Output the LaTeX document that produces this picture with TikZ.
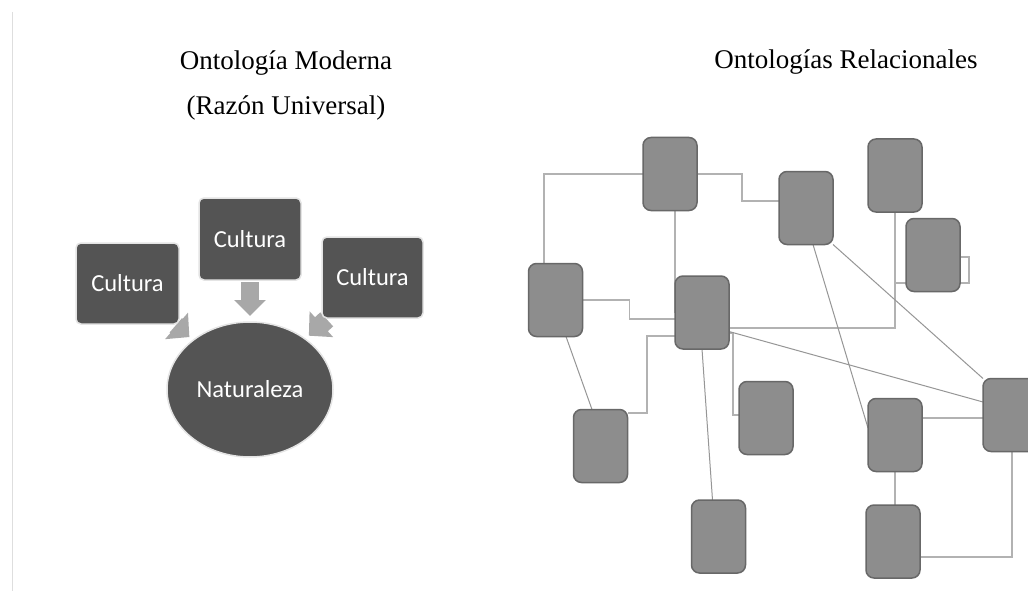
\documentclass[tikz,border=0pt]{standalone}
\usepackage{fontspec}
\setmainfont{Liberation Serif}
\newfontfamily\calfont{Carlito}
\usetikzlibrary{arrows.meta,shapes.geometric}
\pgfdeclarelayer{background}
\pgfsetlayers{background,main}
\definecolor{darkbox}{RGB}{84,84,84}
\definecolor{halo}{RGB}{228,228,228}
\definecolor{arrowgray}{RGB}{168,168,168}
\definecolor{boxfill}{RGB}{141,141,141}
\definecolor{boxline}{RGB}{104,104,104}
\definecolor{elbowgray}{RGB}{178,178,178}
\definecolor{diaggray}{RGB}{150,150,150}
\definecolor{rulegray}{RGB}{222,222,222}
\tikzset{
  title/.style={anchor=base, inner sep=0pt, font=\fontsize{27}{32}\selectfont},
  culturabox/.style={rectangle, rounded corners=5pt, fill=darkbox, draw=halo, line width=1.5pt,
    text=white, font=\calfont\fontsize{24.5}{28}\selectfont, inner sep=0pt, outer sep=0pt},
  natellipse/.style={ellipse, fill=darkbox, draw=halo, line width=1.5pt, text=white,
    font=\calfont\fontsize{24.5}{28}\selectfont, inner sep=0pt, outer sep=0pt,
    minimum width=166pt, minimum height=135pt},
  bigarrow/.style={draw=arrowgray, line width=18pt, -{Triangle[width=31pt,length=16pt]},
    shorten <=2pt, shorten >=6pt},
  sidearrow/.style={draw=arrowgray, line width=19pt, -{Triangle[width=34pt,length=17pt]},
    shorten <=2pt, shorten >=5pt},
  rbox/.style={rectangle, rounded corners=8pt, fill=boxfill, draw=boxline, line width=1.5pt,
    minimum width=54pt, minimum height=73pt, inner sep=0pt, outer sep=0pt},
  elbow/.style={draw=elbowgray, line width=1.3pt},
  diag/.style={draw=diaggray, line width=1pt},
}
\begin{document}
\begin{tikzpicture}[x=1pt,y=-1pt]
\useasboundingbox (0,0) rectangle (1028,591);
\clip (0,0) rectangle (1028,591);
\begin{pgfonlayer}{background}
\fill[white] (0,0) rectangle (1028,591);
\end{pgfonlayer}
\draw[rulegray, line width=1pt] (12,12) -- (12,591);

% titles
\node[title] (t1) at (286,69.5) {Ontología Moderna};
\node[title] (t2) at (286,114.5) {(Razón Universal)};
\node[title] (t3) at (846,68.5) {Ontologías Relacionales};

% left diagram
\node[culturabox, minimum width=103pt, minimum height=81pt] (c1) at (127.5,283.5) {Cultura};
\node[culturabox, minimum width=102pt, minimum height=82pt] (c2) at (250,239) {Cultura};
\node[culturabox, minimum width=101pt, minimum height=81pt] (c3) at (372.5,277.5) {Cultura};
\node[natellipse] (nat) at (250,389.5) {Naturaleza};
\begin{pgfonlayer}{background}
\draw[sidearrow] (c1) -- (nat);
\draw[bigarrow] (c2) -- (nat);
\draw[sidearrow] (c3) -- (nat);
\end{pgfonlayer}

% right diagram nodes
\node[rbox] (A) at (670,174) {};
\node[rbox] (B) at (555.5,300) {};
\node[rbox] (C) at (702,312.5) {};
\node[rbox] (D) at (806,208) {};
\node[rbox] (E) at (895,175.5) {};
\node[rbox] (F) at (933,255) {};
\node[rbox] (G) at (600.5,446) {};
\node[rbox] (H) at (718.5,536.5) {};
\node[rbox] (I) at (766,418) {};
\node[rbox] (J) at (895,435) {};
\node[rbox] (K) at (1010,415) {};
\node[rbox] (L) at (893,541.5) {};

\begin{pgfonlayer}{background}
\draw[elbow] (A.west) -| ([xshift=-11.5pt]B.north);
\draw[elbow] (A.east) -- ++(45,0) |- ([yshift=7pt]D.west);
\draw[elbow] (A.south -| C.west) -- (C.west);
\draw[elbow] (B.east) -- ++(47,0) |- ([yshift=-6.5pt]C.west);
\draw[elbow] ([yshift=-23.5pt]C.west) -- ++(-28,0) |- ([yshift=33pt]G.east);
\draw[elbow] (E.south) |- ([yshift=-15.5pt]C.east);
\draw[elbow] ([yshift=-28pt]F.west) -- ++(-11,0) |- ([yshift=-15.5pt]C.east);
\draw[elbow] ([yshift=-2pt]F.east) -- ++(9,0) |- ([yshift=-28pt]F.east);
\draw[elbow] ([yshift=-20.5pt]C.east) -- ++(4,0) |- ([yshift=3pt]I.west);
\draw[elbow] ([yshift=17pt]J.east) -- ([yshift=-3pt]K.west);
\draw[elbow] (J.south) -- (J.south |- L.north);
\draw[elbow] ([xshift=2pt]K.south) |- ([yshift=-15.5pt]L.east);
\draw[diag] ([xshift=10.5pt]B.south) -- ([xshift=-8.5pt]G.north);
\draw[diag] (C.south) -- ([xshift=-6pt]H.north);
\draw[diag] ([xshift=7pt]D.south) -- ([yshift=7pt]J.west);
\draw[diag] (D.south east) -- (K.north west);
\draw[diag] ([yshift=-19pt]C.east) -- ([yshift=13pt]K.west);
\end{pgfonlayer}
\end{tikzpicture}
\end{document}
